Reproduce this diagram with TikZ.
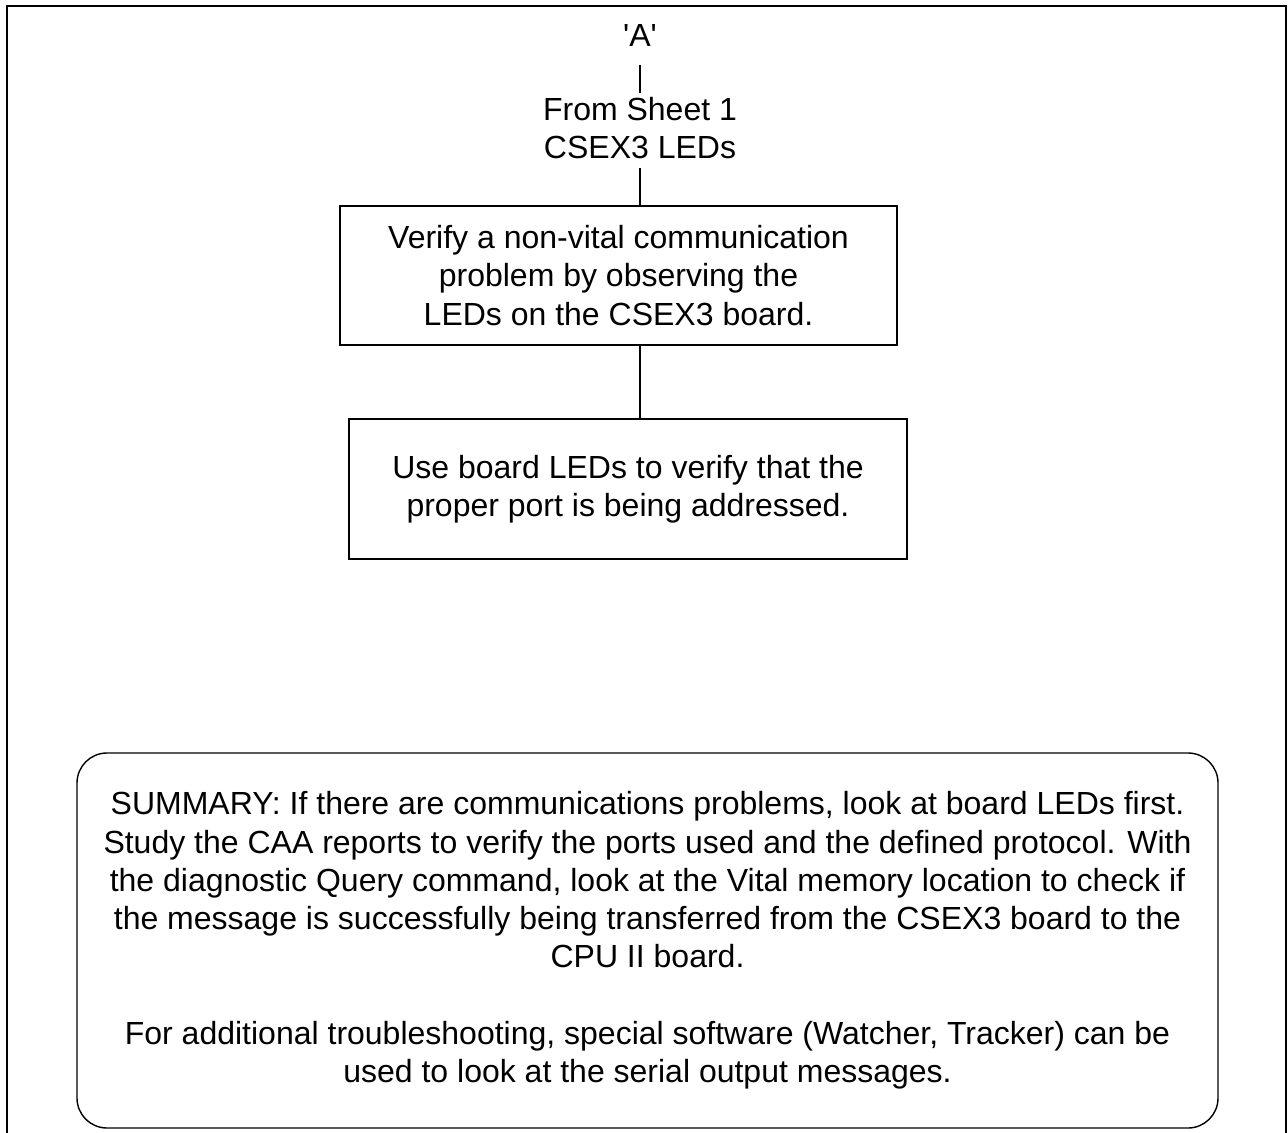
\documentclass[tikz,border=0pt]{standalone}
\usepackage{fontspec}
\setmainfont{Liberation Sans}
\usetikzlibrary{positioning}
\tikzstyle{block} = [draw, rectangle, line width=0.7pt,
    align=center, inner sep=0pt, font=\fontsize{16}{19.15}\selectfont]
\tikzstyle{note} = [block, rounded corners=15pt]
\tikzstyle{tag} = [align=center, inner xsep=0pt, inner ysep=1.8pt,
    font=\fontsize{16}{19.15}\selectfont]
\tikzstyle{link} = [draw, line width=0.65pt]

\begin{document}
\begin{tikzpicture}[x=0.5pt, y=-0.5pt]
    \useasboundingbox (0,0) rectangle (1288,1133);
    % sheet frame, open at the bottom
    \draw [line width=1pt] (7,1133) -- (7,6) -- (1286,6) -- (1286,1133);

    % We start by placing the off-sheet tag
    \node [tag, inner ysep=9pt, anchor=base] (tagA) at (640,47) {\textquotesingle A\textquotesingle};
    \node [tag, below=14pt of tagA] (sheet) {From Sheet 1\\CSEX3 LEDs};
    \node [block, minimum width=278.5pt, minimum height=69.5pt] (verify) at (618.5,275.5)
        {Verify a non-vital communication\\problem by observing the\\LEDs on the CSEX3 board.};
    \node [block, minimum width=279pt, minimum height=70pt] (port) at (628,489)
        {Use board LEDs to verify that the\\proper port is being addressed.};
    \node [note, minimum width=570.5pt, minimum height=187.5pt] (summary) at (647.5,940.5)
        {SUMMARY: If there are communications problems, look at board LEDs first.\\
         Study the CAA reports to verify the ports used and the defined protocol. With\\
         the diagnostic Query command, look at the Vital memory location to check if\\
         the message is successfully being transferred from the CSEX3 board to the\\
         CPU II board.\\[19.15pt]
         For additional troubleshooting, special software (Watcher, Tracker) can be\\
         used to look at the serial output messages.};

    % Once the nodes are placed, connecting them is easy.
    \draw [link] (tagA) -- (sheet);
    \draw [link, shorten <=2.6pt] (sheet.south) -- (sheet.south |- verify.north);
    \draw [link] (sheet.south |- verify.south) -- (sheet.south |- port.north);
\end{tikzpicture}
\end{document}
